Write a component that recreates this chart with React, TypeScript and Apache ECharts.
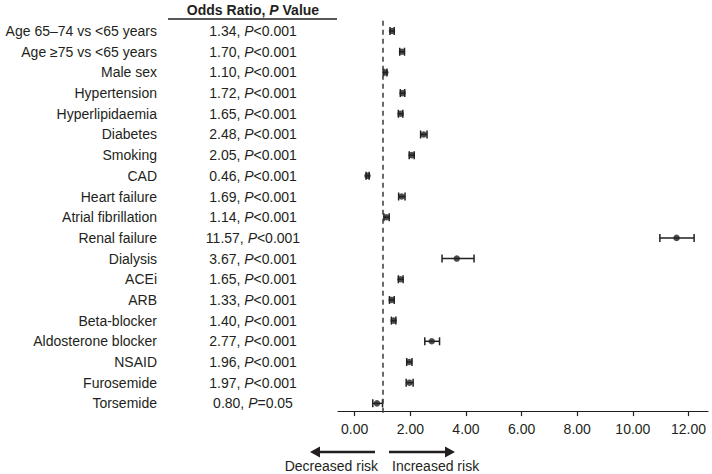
import React, { useEffect, useRef } from "react";
import * as echarts from "echarts";

const factors = [
  "Age 65–74 vs <65 years",
  "Age ≥75 vs <65 years",
  "Male sex",
  "Hypertension",
  "Hyperlipidaemia",
  "Diabetes",
  "Smoking",
  "CAD",
  "Heart failure",
  "Atrial fibrillation",
  "Renal failure",
  "Dialysis",
  "ACEi",
  "ARB",
  "Beta-blocker",
  "Aldosterone blocker",
  "NSAID",
  "Furosemide",
  "Torsemide",
];
const oddsRatios = [1.34, 1.7, 1.1, 1.72, 1.65, 2.48, 2.05, 0.46, 1.69, 1.14, 11.57, 3.67, 1.65, 1.33, 1.4, 2.77, 1.96, 1.97, 0.8];
const ciLower = [1.27, 1.62, 1.04, 1.64, 1.57, 2.37, 1.96, 0.41, 1.58, 1.05, 10.97, 3.14, 1.57, 1.25, 1.32, 2.52, 1.87, 1.85, 0.65];
const ciUpper = [1.42, 1.79, 1.16, 1.8, 1.73, 2.6, 2.14, 0.52, 1.81, 1.24, 12.2, 4.29, 1.74, 1.42, 1.48, 3.05, 2.06, 2.1, 1.0];
const pValues = ["<0.001", "<0.001", "<0.001", "<0.001", "<0.001", "<0.001", "<0.001", "<0.001", "<0.001", "<0.001", "<0.001", "<0.001", "<0.001", "<0.001", "<0.001", "<0.001", "<0.001", "<0.001", "=0.05"];
const xTicks = [0, 2, 4, 6, 8, 10, 12];
const referenceValue = 1;

const INK = "#231f20";
const FONT = "'Liberation Sans', Arial, sans-serif";

export default function App() {
  const ref = useRef<HTMLDivElement>(null);
  useEffect(() => {
    if (!ref.current) return;
    const chart = echarts.init(ref.current, undefined, { renderer: "svg" });
    const option: any = {
      animation: false,
      textStyle: { fontFamily: FONT, color: INK },
      grid: { left: 338, right: 4, top: 20.7, height: 393 },
      xAxis: {
        type: "value",
        min: -0.6,
        max: 12.7,
        offset: -2.6,
        splitLine: { show: false },
        axisLine: { show: true, lineStyle: { color: INK, width: 1.2 } },
        axisTick: { show: true, customValues: xTicks, length: 5, lineStyle: { color: INK, width: 1.2 } },
        axisLabel: {
          customValues: xTicks,
          formatter: (v: number) => v.toFixed(2),
          fontSize: 14,
          color: INK,
          fontFamily: FONT,
          margin: 11,
        },
      },
      yAxis: [
        {
          type: "category",
          data: factors,
          inverse: true,
          axisLine: { show: false },
          axisTick: { show: false },
          splitLine: { show: false },
          axisLabel: { margin: 181, fontSize: 14, color: INK, fontFamily: FONT, align: "right" },
        },
        {
          type: "category",
          data: factors,
          inverse: true,
          position: "left",
          offset: 85,
          axisLine: { show: false },
          axisTick: { show: false },
          splitLine: { show: false },
          axisLabel: {
            margin: 0,
            align: "center",
            formatter: (_v: string, idx: number) =>
              `{a|${oddsRatios[idx].toFixed(2)}, }{p|P}{a|${pValues[idx]}}`,
            rich: {
              a: { fontSize: 14, color: INK, fontFamily: FONT },
              p: { fontSize: 14, color: INK, fontFamily: FONT, fontStyle: "italic" },
            },
          },
        },
      ],
      series: [
        {
          type: "custom",
          yAxisIndex: 0,
          data: factors.map((_f, i) => [ciLower[i], ciUpper[i], i]),
          encode: { x: [0, 1], y: 2 },
          renderItem: (_params: any, api: any) => {
            const idx = api.value(2);
            const lo = api.coord([api.value(0), idx]);
            const hi = api.coord([api.value(1), idx]);
            const h = 4;
            const style = { stroke: INK, lineWidth: 1.5 };
            return {
              type: "group",
              children: [
                { type: "line", shape: { x1: lo[0], y1: lo[1], x2: hi[0], y2: hi[1] }, style },
                { type: "line", shape: { x1: lo[0], y1: lo[1] - h, x2: lo[0], y2: lo[1] + h }, style },
                { type: "line", shape: { x1: hi[0], y1: hi[1] - h, x2: hi[0], y2: hi[1] + h }, style },
              ],
            };
          },
          z: 3,
        },
        {
          type: "scatter",
          yAxisIndex: 0,
          data: factors.map((_f, i) => [oddsRatios[i], i]),
          symbol: "circle",
          symbolSize: 6.5,
          itemStyle: { color: INK },
          z: 4,
          markLine: {
            silent: true,
            symbol: "none",
            label: { show: false },
            lineStyle: { type: [5, 4], color: "#3a3a3a", width: 1.5 },
            data: [{ xAxis: referenceValue }],
          },
        },
      ],
      graphic: [
        {
          type: "text",
          style: {
            x: 253,
            y: 10,
            text: "{b|Odds Ratio, }{bi|P}{b| Value}",
            align: "center",
            verticalAlign: "middle",
            rich: {
              b: { fontSize: 14, fontWeight: "bold", fill: INK, fontFamily: FONT },
              bi: { fontSize: 14, fontWeight: "bold", fontStyle: "italic", fill: INK, fontFamily: FONT },
            },
          },
        },
        { type: "line", shape: { x1: 168, y1: 19, x2: 337, y2: 19 }, style: { stroke: INK, lineWidth: 1.5 } },
        { type: "line", shape: { x1: 318, y1: 452, x2: 375, y2: 452 }, style: { stroke: INK, lineWidth: 2.5 } },
        { type: "polygon", shape: { points: [[310, 452], [320, 446.5], [320, 457.5]] }, style: { fill: INK } },
        { type: "line", shape: { x1: 389, y1: 452, x2: 447, y2: 452 }, style: { stroke: INK, lineWidth: 2.5 } },
        { type: "polygon", shape: { points: [[455, 452], [445, 446.5], [445, 457.5]] }, style: { fill: INK } },
        {
          type: "text",
          style: { x: 378, y: 465.5, text: "Decreased risk", align: "right", verticalAlign: "middle", fontSize: 14, fill: INK, fontFamily: FONT },
        },
        {
          type: "text",
          style: { x: 392, y: 465.5, text: "Increased risk", align: "left", verticalAlign: "middle", fontSize: 14, fill: INK, fontFamily: FONT },
        },
      ],
    };
    chart.setOption(option);
    return () => chart.dispose();
  }, []);
  return (
    <div
      ref={ref}
      style={{ position: "fixed", left: 0, top: 0, width: 712, height: 474, background: "#fff" }}
    />
  );
}
